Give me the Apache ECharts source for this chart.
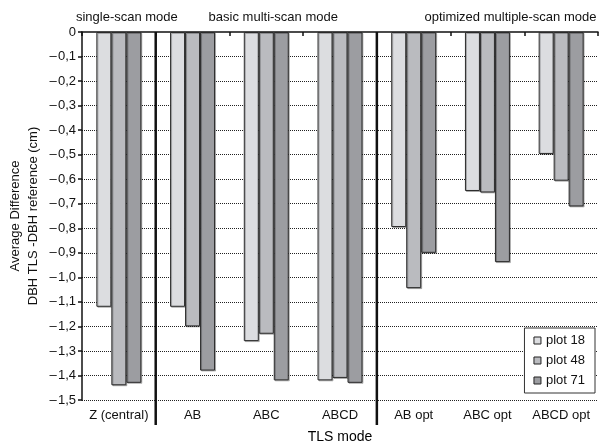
<!DOCTYPE html>
<html>
<head>
<meta charset="utf-8">
<script src="https://cdn.jsdelivr.net/npm/echarts@6/dist/echarts.min.js"></script>
<style>
  html, body { margin: 0; padding: 0; background: #fff; }
  #chart { width: 600px; height: 446px; }
</style>
</head>
<body>
<div id="chart"></div>
<script>
// categories (TLS mode)
const modes = ['Z (central)', 'AB', 'ABC', 'ABCD', 'AB opt', 'ABC opt', 'ABCD opt']
// average difference DBH TLS - DBH reference (cm)
const plot18 = [-1.12, -1.12, -1.26, -1.42, -0.795, -0.648, -0.497]
const plot48 = [-1.44, -1.20, -1.23, -1.41, -1.044, -0.654, -0.606]
const plot71 = [-1.43, -1.38, -1.42, -1.43, -0.90, -0.938, -0.711]
const seriesNames = ['plot 18', 'plot 48', 'plot 71']
const barColors = ['#dcdde0', '#babbbf', '#9c9da1']
// group headers and where the separators go (between category i and i+1)
const groupTitles = ['single-scan mode', 'basic multi-scan mode', 'optimized multiple-scan mode']
const separatorAfter = [0, 3]

const font = 'Liberation Sans, Arial, sans-serif'

// dotted gridlines, but none at 0 (last line)
const gridColors = []
for (let i = 0; i < 15; i++) gridColors.push('#222')
gridColors.push('rgba(0,0,0,0)')

const myChart = echarts.init(document.getElementById('chart'))

const makeBar = (name, data, i) => ({
  name: name,
  type: 'bar',
  data: data,
  barGap: '0%',
  barCategoryGap: '39%',
  itemStyle: {
    color: barColors[i],
    borderColor: '#2a2a2a',
    borderWidth: 1,
    shadowColor: 'rgba(0,0,0,0.25)',
    shadowOffsetX: 1,
    shadowOffsetY: 1
  }
})

const option = {
  animation: false,
  textStyle: { fontFamily: font },
  grid: { left: 82, right: 2, top: 32, bottom: 46, containLabel: false, outerBoundsMode: 'none' },
  legend: {
    orient: 'vertical',
    right: 5,
    top: 328,
    data: seriesNames,
    icon: 'rect',
    itemWidth: 7,
    itemHeight: 7,
    itemGap: 7,
    padding: [6, 10, 6, 9],
    backgroundColor: '#fff',
    borderColor: '#333',
    borderWidth: 1,
    itemStyle: { borderColor: '#222', borderWidth: 1 },
    textStyle: { fontSize: 13, color: '#111', fontFamily: font }
  },
  xAxis: [
    {
      type: 'category',
      data: modes,
      position: 'bottom',
      name: 'TLS mode',
      nameLocation: 'middle',
      nameGap: 30,
      nameMoveOverlap: false,
      nameTextStyle: { fontSize: 14, color: '#000', fontFamily: font },
      axisLine: { lineStyle: { color: '#111', width: 1.5 } },
      axisTick: { show: false },
      axisLabel: { fontSize: 13, color: '#111', margin: 9, interval: 0 }
    },
    {
      type: 'category',
      data: modes,
      position: 'top',
      axisLine: { show: false },
      axisTick: { show: true, inside: true, length: 4, lineStyle: { color: '#111', width: 1.5 } },
      axisLabel: { show: false }
    }
  ],
  yAxis: {
    type: 'value',
    min: -1.5,
    max: 0,
    interval: 0.1,
    name: 'Average Difference\nDBH TLS -DBH reference (cm)',
    nameLocation: 'middle',
    nameGap: 40,
    nameMoveOverlap: false,
    nameTextStyle: { fontSize: 13, color: '#111', lineHeight: 18, fontFamily: font },
    axisLine: { show: true, lineStyle: { color: '#111', width: 1.5 } },
    axisTick: { show: true, inside: false, length: 4, lineStyle: { color: '#111', width: 1.5 } },
    axisLabel: {
      fontSize: 13,
      color: '#111',
      margin: 6,
      formatter: function (v) {
        if (Math.abs(v) < 1e-9) return '0'
        return '\u2013\u200a' + Math.abs(v).toFixed(1).replace('.', ',')
      }
    },
    splitLine: { show: true, lineStyle: { type: 'dotted', color: gridColors, width: 1 } }
  },
  series: [
    makeBar(seriesNames[0], plot18, 0),
    makeBar(seriesNames[1], plot48, 1),
    makeBar(seriesNames[2], plot71, 2)
  ]
}

myChart.setOption(option)

// separators and group headers, placed from the category axis
const cx = (i) => myChart.convertToPixel({ xAxisIndex: 0 }, modes[i])
const yTop = myChart.convertToPixel({ yAxisIndex: 0 }, 0)
const yBot = myChart.convertToPixel({ yAxisIndex: 0 }, -1.5)
const graphics = []
separatorAfter.forEach(function (i) {
  const x = (cx(i) + cx(i + 1)) / 2
  graphics.push({
    type: 'line',
    shape: { x1: x, y1: yTop, x2: x, y2: yBot + 25 },
    style: { stroke: '#111', lineWidth: 2.5 },
    z: 10
  })
})
const headerX = [cx(0) + 8, (cx(1) + cx(3)) / 2 + 7, cx(5) + 23]
groupTitles.forEach(function (t, i) {
  graphics.push({
    type: 'text',
    x: headerX[i],
    y: 17,
    style: { text: t, fontSize: 13, fill: '#111', fontFamily: font, align: 'center', verticalAlign: 'middle' },
    z: 10
  })
})
myChart.setOption({ graphic: graphics })
</script>
</body>
</html>
